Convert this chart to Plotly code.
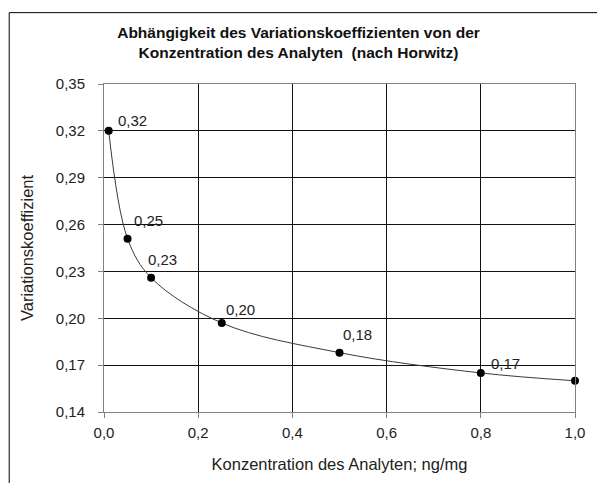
import plotly.graph_objects as go

# Horwitz coefficient of variation vs. analyte concentration
konzentration = [0.01, 0.05, 0.1, 0.25, 0.5, 0.8, 1.0]
variationskoeffizient = [0.320, 0.251, 0.226, 0.197, 0.178, 0.165, 0.160]
label_texts = ["0,32", "0,25", "0,23", "0,20", "0,18", "0,17"]
# pixel offsets (dx, dy) of each value label relative to its point
label_offsets = [(24, 10), (21, 18), (11, 18), (19, 13), (18, 18), (25, 9)]

y_ticks = [0.14, 0.17, 0.20, 0.23, 0.26, 0.29, 0.32, 0.35]
x_ticks = [0.0, 0.2, 0.4, 0.6, 0.8, 1.0]

FONT = "Liberation Sans, Arial, sans-serif"

fig = go.Figure()
fig.add_trace(go.Scatter(
    x=konzentration,
    y=variationskoeffizient,
    mode="lines+markers",
    line=dict(color="#3a3a3a", width=1, shape="spline", smoothing=1.0),
    marker=dict(color="black", size=8),
    hoverinfo="x+y",
    showlegend=False,
    cliponaxis=False,
))

for xv, yv, txt, (dx, dy) in zip(konzentration, variationskoeffizient, label_texts, label_offsets):
    fig.add_annotation(
        x=xv, y=yv, text=txt, showarrow=False,
        xanchor="center", yanchor="middle",
        xshift=dx, yshift=dy,
        font=dict(family=FONT, size=15, color="#222222"),
    )

W, H = 597, 483
L, R, T, B = 104, 21, 84, 68
pw, ph = W - L - R, H - T - B

def px_x(p):
    return (p - L) / pw

def px_y(p):
    return (H - B - p) / ph

# chart-area frame (open towards the right and bottom)
fig.add_shape(type="rect", xref="paper", yref="paper",
              x0=px_x(9), x1=px_x(605), y0=px_y(495), y1=px_y(12),
              line=dict(color="black", width=1), fillcolor="rgba(0,0,0,0)",
              layer="below")

fig.update_layout(
    width=W, height=H,
    margin=dict(l=L, r=R, t=T, b=B),
    paper_bgcolor="white",
    plot_bgcolor="white",
    separators=", ",
    font=dict(family=FONT, size=15, color="#222222"),
    title=dict(
        text="<b>Abhängigkeit des Variationskoeffizienten von der<br>Konzentration des Analyten  (nach Horwitz)</b>",
        x=0.5, xref="container", xanchor="center",
        y=1 - 38 / H, yref="container", yanchor="middle",
        font=dict(family=FONT, size=15.5, color="#111111"),
    ),
    xaxis=dict(
        range=[0, 1.0],
        tickvals=x_ticks,
        tickformat=".1f",
        showgrid=True, gridcolor="#111111", gridwidth=1,
        showline=True, linecolor="#808080", linewidth=1, mirror=True,
        ticks="outside", ticklen=5, tickcolor="#808080",
        zeroline=False,
        tickfont=dict(size=15, color="#222222"),
        ticklabelstandoff=2,
        title=dict(text="Konzentration des Analyten; ng/mg", standoff=18,
                   font=dict(size=16.5, color="#222222")),
    ),
    yaxis=dict(
        range=[0.14, 0.35],
        tickvals=y_ticks,
        tickformat=".2f",
        showgrid=True, gridcolor="#111111", gridwidth=1,
        showline=True, linecolor="#808080", linewidth=1, mirror=True,
        ticks="outside", ticklen=5, tickcolor="#808080",
        zeroline=False,
        tickfont=dict(size=15, color="#222222"),
        ticklabelstandoff=10,
        title=dict(text="Variationskoeffizient", standoff=18,
                   font=dict(size=16.5, color="#222222")),
    ),
)

fig.write_html("out.html")
